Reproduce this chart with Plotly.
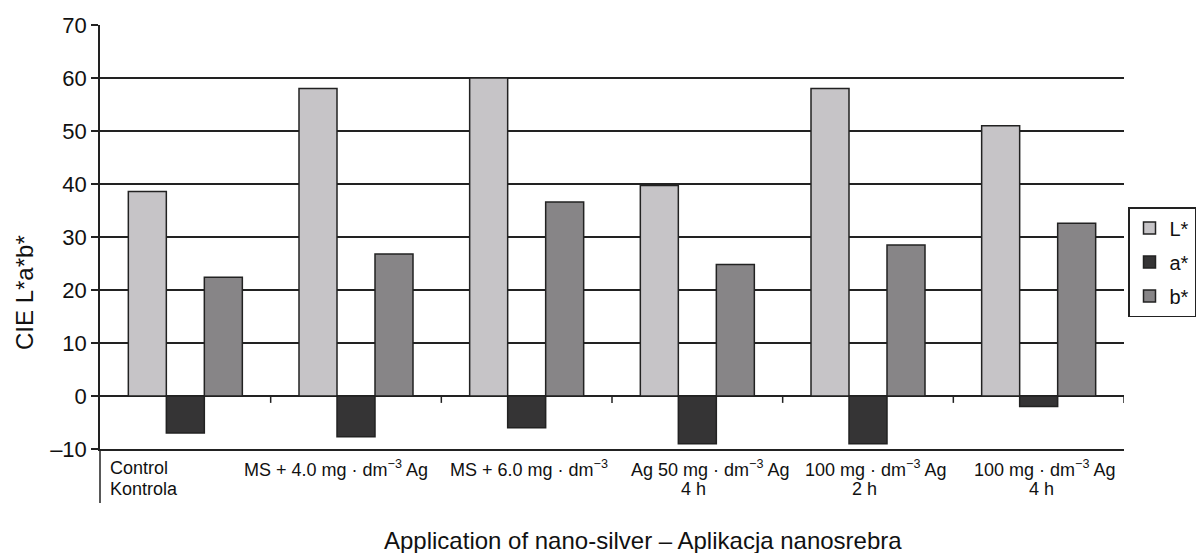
import plotly.graph_objects as go

# ---- data ----
categories = ["Control Kontrola", "MS + 4.0 mg·dm−3 Ag", "MS + 6.0 mg·dm−3",
              "Ag 50 mg·dm−3 Ag 4 h", "100 mg·dm−3 Ag 2 h", "100 mg·dm−3 Ag 4 h"]
L_values = [38.6, 58.0, 60.0, 39.7, 58.0, 51.0]
a_values = [-7.0, -7.7, -6.0, -9.0, -9.0, -2.0]
b_values = [22.4, 26.8, 36.6, 24.8, 28.5, 32.6]
series_names = ["L*", "a*", "b*"]
label_line1 = ["Control", "MS + 4.0 mg · dm<sup>−3</sup> Ag", "MS + 6.0 mg · dm<sup>−3</sup>",
               "Ag 50 mg · dm<sup>−3</sup> Ag", "100 mg · dm<sup>−3</sup> Ag", "100 mg · dm<sup>−3</sup> Ag"]
label_line2 = ["Kontrola", "", "", "4 h", "2 h", "4 h"]
y_tickvals = [-10, 0, 10, 20, 30, 40, 50, 60, 70]
y_ticktext = ["–10", "0", "10", "20", "30", "40", "50", "60", "70"]
y_title = "CIE L*a*b*"
x_title = "Application of nano-silver – Aplikacja nanosrebra"

# ---- styling / layout constants ----
colors = ["#c6c4c7", "#353435", "#878587"]
edge = "#222222"
font_family = "Liberation Sans, Arial, sans-serif"
line1_dx = [-0.453, -0.117, 0.014, 0.074, 0.041, 0.037]
line2_dx = [-0.453, 0.0, 0.0, -0.025, -0.023, 0.014]

W, H = 1197, 553
ML, MR, MT, MB = 100, 73, 25, 104
plot_h = H - MT - MB
plot_w = W - ML - MR

fig = go.Figure()
for name, vals, col in zip(series_names, [L_values, a_values, b_values], colors):
    fig.add_trace(go.Bar(
        x=categories, y=vals, name=name, legendgroup=name,
        marker=dict(color=col, line=dict(color=edge, width=1.5)),
    ))

annotations = []
for i, (t1, t2) in enumerate(zip(label_line1, label_line2)):
    anchor = "left" if i == 0 else "center"
    annotations.append(dict(
        x=i + line1_dx[i], y=-19 / plot_h, xref="x", yref="paper",
        text=t1, showarrow=False, xanchor=anchor, yanchor="middle",
        font=dict(size=18, color="#111", family=font_family)))
    if t2:
        annotations.append(dict(
            x=i + line2_dx[i], y=-40 / plot_h, xref="x", yref="paper",
            text=t2, showarrow=False, xanchor=anchor, yanchor="middle",
            font=dict(size=18, color="#111", family=font_family)))

# axis titles
annotations.append(dict(
    x=(643 - ML) / plot_w, y=-(540 - (H - MB)) / plot_h, xref="paper", yref="paper",
    text=x_title, showarrow=False, xanchor="center", yanchor="middle",
    font=dict(size=24, color="#111", family=font_family)))
annotations.append(dict(
    x=-(ML - 24) / plot_w, y=((H - MB) - 293) / plot_h, xref="paper", yref="paper",
    text=y_title, showarrow=False, textangle=-90, xanchor="center", yanchor="middle",
    font=dict(size=24, color="#111", family=font_family)))

shapes = []
# boundary ticks on the zero line
for i in range(len(categories)):
    shapes.append(dict(type="line", xref="x", yref="y", x0=i + 0.5, x1=i + 0.5,
                       y0=0, y1=-1.3, line=dict(color=edge, width=1.5)))
# left axis line extension below the plot
shapes.append(dict(type="line", xref="paper", yref="paper", x0=0, x1=0,
                   y0=0, y1=-(503 - (H - MB)) / plot_h, line=dict(color=edge, width=1.5)))

fig.update_layout(
    width=W, height=H,
    margin=dict(l=ML, r=MR, t=MT, b=MB, autoexpand=False),
    paper_bgcolor="white", plot_bgcolor="white",
    barmode="group", bargap=0.332, bargroupgap=0,
    font=dict(family=font_family, color="#111"),
    showlegend=True,
    legend=dict(x=(W - 1 - ML) / plot_w, xanchor="right", y=(H - MB - 207) / plot_h, yanchor="top",
                bordercolor=edge, borderwidth=1.5, bgcolor="white",
                font=dict(size=20, family=font_family, color="#111"),
                tracegroupgap=5, itemwidth=30),
    annotations=annotations,
    shapes=shapes,
)
fig.update_xaxes(showticklabels=False, ticks="", showgrid=False, zeroline=False,
                 showline=True, linecolor=edge, linewidth=1.5,
                 range=[-0.5, len(categories) - 0.5])
fig.update_yaxes(range=[-10, 70], tickvals=y_tickvals, ticktext=y_ticktext,
                 showgrid=True, gridcolor=edge, gridwidth=1.5,
                 zeroline=True, zerolinecolor=edge, zerolinewidth=1.5,
                 showline=True, linecolor=edge, linewidth=1.5,
                 ticks="outside", ticklen=7, tickwidth=1.5, tickcolor=edge,
                 tickfont=dict(size=22, family=font_family, color="#111"))

fig.write_html("out.html", config={"displayModeBar": False},
               post_script="document.body.style.margin='0px';document.body.style.overflow='hidden';")
